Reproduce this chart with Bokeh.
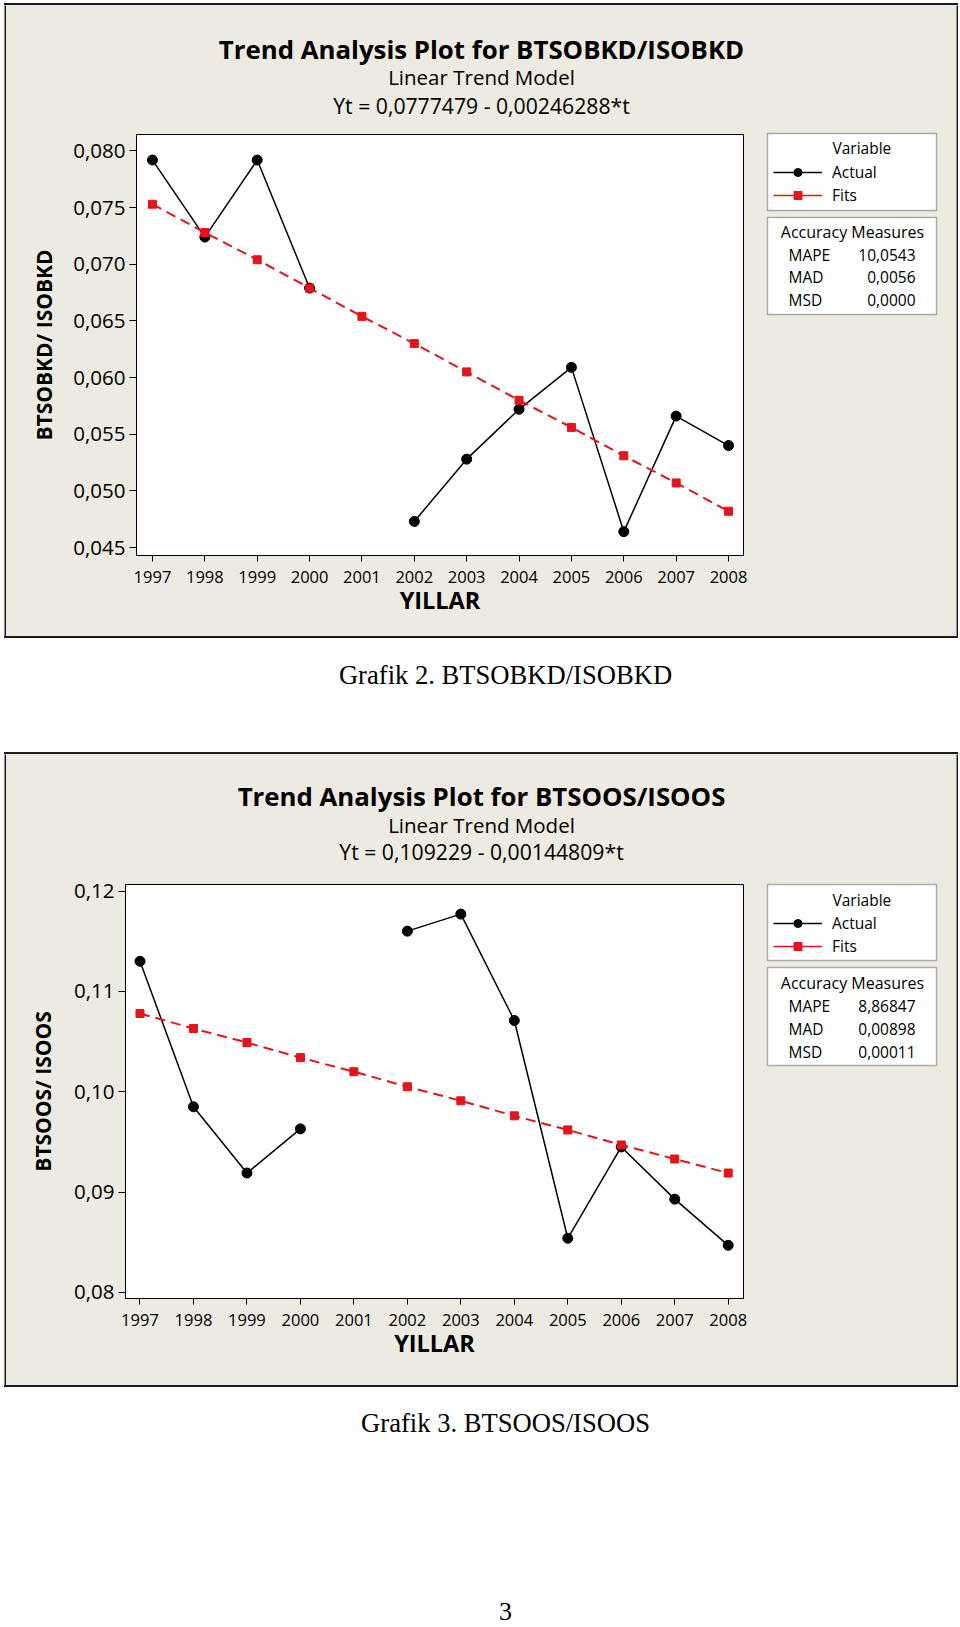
from bokeh.plotting import figure
from bokeh.models import (FixedTicker, Label, Legend, LegendItem, BoxAnnotation,
                          ColumnDataSource, Range1d, Spacer)
from bokeh.layouts import column, row
from bokeh.embed import file_html
from bokeh.resources import INLINE

NaN = float("nan")

# ---------------- data ----------------
years = [1997, 1998, 1999, 2000, 2001, 2002, 2003, 2004, 2005, 2006, 2007, 2008]

actual_1 = [0.0792, 0.0724, 0.0792, 0.0679, NaN, 0.0473, 0.0528, 0.0572, 0.0609, 0.0464, 0.0566, 0.0540]
fits_1 = [0.0753, 0.0728, 0.0704, 0.0679, 0.0654, 0.0630, 0.0605, 0.0580, 0.0556, 0.0531, 0.0507, 0.0482]
yticks_1 = [0.045, 0.050, 0.055, 0.060, 0.065, 0.070, 0.075, 0.080]
ylabels_1 = ["0,045", "0,050", "0,055", "0,060", "0,065", "0,070", "0,075", "0,080"]

actual_2 = [0.1130, 0.0985, 0.0919, 0.0963, NaN, 0.1160, 0.1177, 0.1071, 0.0854, 0.0945, 0.0893, 0.0847]
fits_2 = [0.1078, 0.1063, 0.1049, 0.1034, 0.1020, 0.1005, 0.0991, 0.0976, 0.0962, 0.0947, 0.0933, 0.0919]
yticks_2 = [0.08, 0.09, 0.10, 0.11, 0.12]
ylabels_2 = ["0,08", "0,09", "0,10", "0,11", "0,12"]

measure_names = ["MAPE", "MAD", "MSD"]
measures_1 = ["10,0543", "0,0056", "0,0000"]
measures_2 = ["8,86847", "0,00898", "0,00011"]

titles_1 = ["Trend Analysis Plot for BTSOBKD/ISOBKD", "Linear Trend Model", "Yt = 0,0777479 - 0,00246288*t"]
titles_2 = ["Trend Analysis Plot for BTSOOS/ISOOS", "Linear Trend Model", "Yt = 0,109229 - 0,00144809*t"]
ylab_1 = "BTSOBKD/ ISOBKD"
ylab_2 = "BTSOOS/ ISOOS"
xlab = "YILLAR"
caption_1 = "Grafik 2. BTSOBKD/ISOBKD"
caption_2 = "Grafik 3. BTSOOS/ISOOS"
page_no = "3"

# ---------------- style ----------------
BEIGE = "#EDEAE1"
EDGE = "#1c1c1c"
RED = "#E3141C"
FONT = "Open Sans"
SERIF = "Liberation Serif"
PX0 = 4          # panel outer left (page px)
BW = 2           # panel border width
IX = PX0 + BW    # panel inner left
IR = 956         # panel inner right
SPLIT = 760      # boundary between plot part and legend part
PLOT_W = SPLIT - IX
LEG_W = IR - SPLIT
FR = 743         # right edge of plot frame (page px)


def blank(w, h, fill):
    f = figure(width=w, height=h, output_backend="svg", toolbar_location=None,
               x_axis_type=None, y_axis_type=None, min_border=0,
               outline_line_color=None, background_fill_color=fill,
               border_fill_color=fill, x_range=Range1d(0, 1), y_range=Range1d(0, 1))
    f.frame_align = False
    f.grid.visible = False
    return f


def hbar(w):
    return Spacer(width=w, height=BW, styles={"background-color": EDGE})


def txt(fig, text, sx, sy, size, align="left", bold=False, font=FONT, baseline="middle"):
    # sx, sy: pixels from the frame's bottom-left corner (frame == whole canvas here)
    fig.add_layout(Label(x=sx, y=sy, x_units="screen", y_units="screen",
                         text=text, text_align=align, text_baseline=baseline,
                         text_font=font, text_font_size=f"{size}px",
                         text_font_style="bold" if bold else "normal",
                         text_color="black"))


def panel(actual, fits, yticks, ylabels, yrange, xrange, titles, ylab, measures, g):
    top, H, title_bot = g["top"], g["H"], g["title_bot"]
    in_top = top + BW
    in_bot = top + H - BW
    th = title_bot - in_top
    body_h = in_bot - title_bot

    # ---- title strip ----
    tf = blank(IR - IX, th, BEIGE)
    sizes = [25.8, 20.5, 21.2]
    for t, yy, s, b in zip(titles, g["ty"], sizes, [True, False, False]):
        txt(tf, t, 481 - IX, title_bot - yy, s, align="center", bold=b)

    # ---- plot ----
    fl, ft, fb = g["fl"], g["ft"], g["fb"]
    p = figure(width=PLOT_W, height=body_h, x_range=Range1d(*xrange), y_range=Range1d(*yrange),
               output_backend="svg", toolbar_location=None,
               min_border_left=int(round(fl - IX)), min_border_right=int(round(SPLIT - FR)),
               min_border_top=int(round(ft - title_bot)), min_border_bottom=int(round(in_bot - fb)),
               background_fill_color="white", border_fill_color=BEIGE,
               outline_line_color="black", outline_line_width=1)
    p.frame_align = False
    p.grid.visible = False

    src = ColumnDataSource(dict(x=years, a=actual, f=fits))
    p.line("x", "a", source=src, line_color="black", line_width=1.5)
    p.scatter("x", "a", source=src, marker="circle", size=10, color="black")
    p.line("x", "f", source=src, line_color=RED, line_width=2, line_dash="10 6")
    p.scatter("x", "f", source=src, marker="square", size=8, color=RED)

    for ax in (p.xaxis[0], p.yaxis[0]):
        ax.axis_line_color = "black"
        ax.major_tick_line_color = "black"
        ax.minor_tick_line_color = None
        ax.major_tick_in = 0
        ax.major_label_text_font = FONT
        ax.axis_label_text_font = FONT
        ax.axis_label_text_font_style = "bold"
        ax.axis_label_text_color = "black"
        ax.major_label_text_color = "black"
    xa, ya = p.xaxis[0], p.yaxis[0]
    xa.ticker = FixedTicker(ticks=years)
    xa.major_tick_out = 6
    xa.major_label_standoff = 9
    xa.major_label_text_font_size = "16.5px"
    xa.axis_label = xlab
    xa.axis_label_text_font_size = "23.5px"
    xa.axis_label_standoff = -2
    ya.ticker = FixedTicker(ticks=yticks)
    ya.major_label_overrides = dict(zip(yticks, ylabels))
    ya.major_tick_out = 7
    ya.major_label_standoff = 4
    ya.major_label_text_font_size = "20.5px"
    ya.axis_label = ylab
    ya.axis_label_text_font_size = "21px"
    ya.axis_label_standoff = g["ylab_standoff"]

    # ---- legend strip ----
    lf = blank(LEG_W, body_h, BEIGE)
    b1t, b1b, b2t, b2b = g["boxes"]
    for (t, b) in ((b1t, b1b), (b2t, b2b)):
        lf.add_layout(BoxAnnotation(left=767 - SPLIT, right=936 - SPLIT,
                                    top=in_bot - t, bottom=in_bot - b,
                                    left_units="screen", right_units="screen",
                                    top_units="screen", bottom_units="screen",
                                    fill_color="white", fill_alpha=1.0,
                                    line_color="black", line_width=1.5))
    ly = g["leg"]
    txt(lf, "Variable", 832 - SPLIT, in_bot - ly[0], 15.5)
    # legend keys: unplotted renderers styled like the series
    kx, ky = [NaN], [NaN]
    k1 = lf.line(kx, ky, line_color="black", line_width=1.5)
    k2 = lf.scatter(kx, ky, marker="circle", size=10, color="black")
    k3 = lf.line(kx, ky, line_color=RED, line_width=1.5)
    k4 = lf.scatter(kx, ky, marker="square", size=8, color=RED)
    item_h = 23
    legend = Legend(items=[LegendItem(label="Actual", renderers=[k1, k2]),
                           LegendItem(label="Fits", renderers=[k3, k4])],
                    location=(773 - SPLIT, in_bot - (ly[2] + item_h / 2)),
                    padding=0, margin=0, spacing=0, glyph_width=49, glyph_height=20,
                    label_height=item_h, label_standoff=10,
                    label_text_font=FONT, label_text_font_size="15.5px",
                    label_text_color="black",
                    border_line_color=None, background_fill_alpha=0)
    lf.add_layout(legend)
    ay = g["acc"]
    txt(lf, "Accuracy Measures", 852 - SPLIT, in_bot - ay[0], 16, align="center")
    for name, val, yy in zip(measure_names, measures, ay[1:]):
        txt(lf, name, 788 - SPLIT, in_bot - yy, 15.5)
        txt(lf, val, 915 - SPLIT, in_bot - yy, 15.5, align="right")

    inner = column(tf, row(p, lf, spacing=0), spacing=0)
    inner.styles = {"background-color": BEIGE}
    ow = IR - IX + 2 * BW
    framed = column(hbar(ow),
                    row(blank(BW, in_bot - in_top, EDGE), inner, blank(BW, in_bot - in_top, EDGE),
                        spacing=0),
                    hbar(ow), spacing=0)
    return row(Spacer(width=PX0, height=H), framed, spacing=0)


g1 = dict(top=3, H=635, title_bot=125, fl=136, ft=134, fb=555, ylab_standoff=12,
          ty=[48, 76, 105], boxes=[133, 210, 217, 314],
          leg=[147, 172, 195], acc=[231, 254, 276, 299])
g2 = dict(top=752, H=635, title_bot=875, fl=125, ft=884, fb=1298, ylab_standoff=14,
          ty=[795, 824, 851], boxes=[884, 960, 967, 1065],
          leg=[899, 922.5, 945.5], acc=[982, 1005, 1028, 1051])

p1 = panel(actual_1, fits_1, yticks_1, ylabels_1, (0.044295, 0.081455), (1996.695, 2008.286),
           titles_1, ylab_1, measures_1, g1)
p2 = panel(actual_2, fits_2, yticks_2, ylabels_2, (0.079402, 0.120648), (1996.729, 2008.286),
           titles_2, ylab_2, measures_2, g2)

gap = blank(960, 114, "white")       # page y 638..752
txt(gap, caption_1, 505, 752 - 674, 26.6, align="center", font=SERIF)
foot = blank(960, 238, "white")      # page y 1387..1625
txt(foot, caption_2, 505, 1625 - 1422, 26.6, align="center", font=SERIF)
txt(foot, page_no, 505, 1625 - 1611, 26, align="center", font=SERIF)

layout = column(Spacer(width=960, height=3), p1, gap, p2, foot, spacing=0)
open("out.html", "w").write(file_html(layout, INLINE))
